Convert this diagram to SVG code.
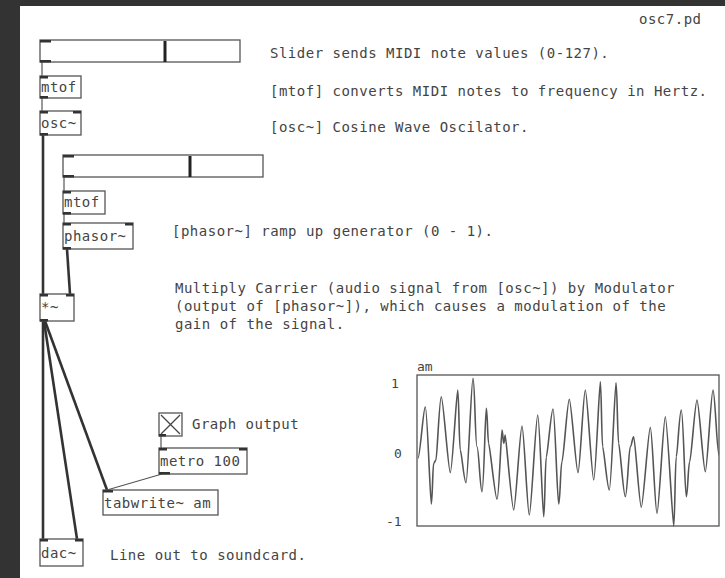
<svg xmlns="http://www.w3.org/2000/svg" width="725" height="578" viewBox="0 0 725 578">
<defs>
<style>
.t{font-family:"DejaVu Sans Mono","Liberation Mono",monospace;font-size:14px;letter-spacing:0.5px;fill:#444}
.s{font-family:"DejaVu Sans Mono","Liberation Mono",monospace;font-size:13px;fill:#444}
.box{fill:#fff;stroke:#555;stroke-width:1.3}
.tab{fill:#333}
.sig{stroke:#333;stroke-width:2.6;fill:none}
.ctl{stroke:#555;stroke-width:1.2;fill:none}
</style>
</defs>
<rect x="0" y="0" width="725" height="578" fill="#333"/>
<rect x="20" y="6" width="705" height="572" fill="#fff"/>

<text class="t" x="639" y="24">osc7.pd</text>

<g id="connectors">
<line class="ctl" x1="42" y1="62" x2="42" y2="76"/>
<line class="ctl" x1="42" y1="98" x2="42" y2="111"/>
<line class="sig" x1="43" y1="135" x2="43" y2="294"/>
<line class="ctl" x1="64" y1="177" x2="64" y2="191"/>
<line class="ctl" x1="64" y1="214" x2="64" y2="223"/>
<line class="sig" x1="67" y1="249" x2="70" y2="294"/>
<line class="sig" x1="43" y1="321" x2="43" y2="539"/>
<line class="sig" x1="44" y1="321" x2="77" y2="539"/>
<line class="sig" x1="45" y1="321" x2="107" y2="490"/>
<line class="ctl" x1="161" y1="436" x2="161" y2="448"/>
<line class="ctl" x1="162" y1="474" x2="107" y2="490"/>
</g>

<g id="slider1">
<rect class="box" x="40" y="40" width="200" height="22"/>
<rect class="tab" x="40" y="40" width="11" height="2.5"/>
<rect class="tab" x="40" y="60" width="11" height="2.5"/>
<line x1="165" y1="41" x2="165" y2="62" stroke="#222" stroke-width="3"/>
</g>
<text class="t" x="270" y="58">Slider sends MIDI note values (0-127).</text>

<g id="mtof1">
<rect class="box" x="40" y="76" width="41" height="22"/>
<rect class="tab" x="40" y="76" width="8" height="2.5"/>
<rect class="tab" x="40" y="96" width="8" height="2.5"/>
<text class="t" x="41" y="92">mtof</text>
</g>
<text class="t" x="270" y="96">[mtof] converts MIDI notes to frequency in Hertz.</text>

<g id="osc">
<rect class="box" x="40" y="111" width="41" height="24"/>
<rect class="tab" x="40" y="111" width="8" height="2.5"/>
<rect class="tab" x="73" y="111" width="8" height="2.5"/>
<rect class="tab" x="40" y="133" width="8" height="2.5"/>
<text class="t" x="41" y="128">osc~</text>
</g>
<text class="t" x="270" y="132">[osc~] Cosine Wave Oscilator.</text>

<g id="slider2">
<rect class="box" x="63" y="155" width="200" height="22"/>
<rect class="tab" x="63" y="155" width="11" height="2.5"/>
<rect class="tab" x="63" y="175" width="11" height="2.5"/>
<line x1="190" y1="156" x2="190" y2="177" stroke="#222" stroke-width="3"/>
</g>

<g id="mtof2">
<rect class="box" x="63" y="191" width="42" height="23"/>
<rect class="tab" x="63" y="191" width="8" height="2.5"/>
<rect class="tab" x="63" y="212" width="8" height="2.5"/>
<text class="t" x="64" y="207">mtof</text>
</g>

<g id="phasor">
<rect class="box" x="63" y="223" width="70" height="26"/>
<rect class="tab" x="63" y="223" width="8" height="2.5"/>
<rect class="tab" x="125" y="223" width="8" height="2.5"/>
<rect class="tab" x="63" y="247" width="8" height="2.5"/>
<text class="t" x="64" y="241">phasor~</text>
</g>
<text class="t" x="172" y="236">[phasor~] ramp up generator (0 - 1).</text>

<g id="mul">
<rect class="box" x="40" y="294" width="34" height="27"/>
<rect class="tab" x="40" y="294" width="8" height="2.5"/>
<rect class="tab" x="66" y="294" width="8" height="2.5"/>
<rect class="tab" x="40" y="319" width="8" height="2.5"/>
<text class="t" x="41" y="312">*~</text>
</g>
<text class="t" x="175" y="293">Multiply Carrier (audio signal from [osc~]) by Modulator</text>
<text class="t" x="175" y="311">(output of [phasor~]), which causes a modulation of the</text>
<text class="t" x="175" y="329">gain of the signal.</text>

<g id="toggle">
<rect class="box" x="159" y="413" width="23" height="23"/>
<line x1="161" y1="415" x2="180" y2="434" stroke="#444" stroke-width="1.3"/>
<line x1="180" y1="415" x2="161" y2="434" stroke="#444" stroke-width="1.3"/>
<rect class="tab" x="159" y="434" width="7" height="2.5"/>
</g>
<text class="t" x="192" y="429">Graph output</text>

<g id="metro">
<rect class="box" x="159" y="448" width="88" height="26"/>
<rect class="tab" x="159" y="448" width="8" height="2.5"/>
<rect class="tab" x="239" y="448" width="8" height="2.5"/>
<rect class="tab" x="159" y="472" width="11" height="2.5"/>
<text class="t" x="160" y="466">metro 100</text>
</g>

<g id="tabwrite">
<rect class="box" x="103" y="490" width="115" height="25"/>
<rect class="tab" x="103" y="490" width="10" height="2.5"/>
<text class="t" x="104" y="508">tabwrite~ am</text>
</g>

<g id="dac">
<rect class="box" x="40" y="539" width="43" height="27"/>
<rect class="tab" x="40" y="539" width="8" height="2.5"/>
<rect class="tab" x="75" y="539" width="8" height="2.5"/>
<text class="t" x="41" y="558">dac~</text>
</g>
<text class="t" x="110" y="560">Line out to soundcard.</text>

<g id="graph">
<text class="s" x="417" y="371">am</text>
<text class="s" x="391" y="388">1</text>
<text class="s" x="394" y="458">0</text>
<text class="s" x="386" y="526">-1</text>
<rect x="417" y="375" width="302" height="151" fill="#fff" stroke="#555" stroke-width="1.3"/>
<path fill="none" stroke="#555" stroke-width="1.6" stroke-linejoin="round" d="M418,458.3 C420,458.3 423.3,406.7 425.3,406.7 S430.2,504 431.3,504 S432.7,463.3 433.7,463.3 S435,460 436,460 S439.3,396.7 441.3,396.7 S448.3,472.7 450.3,472.7 S456.5,390 457.7,390 S459.1,450 460.3,450 S464,482.7 466,482.7 S471.2,378.3 473,378.3 S475.2,446.7 477,446.7 S480.1,491.7 482,491.7 S485.2,408.3 486.3,408.3 S487.6,443.3 488.7,443.3 S495,499.3 497,499.3 S501.2,430 502,430 S503,443.3 503.7,443.3 S504.6,435 505.3,435 S511.7,510 513.7,510 S520,426 522,426 S527.3,515 529.3,515 S535.7,415 537.7,415 S542.5,516.7 543.7,516.7 S545.1,457.3 546.3,457.3 S551,409 553,409 S557.2,504 558.7,504 S560.5,461.7 562,461.7 S567.3,399.3 569.3,399.3 S576,472.7 578,472.7 S583.3,390 585.3,390 S591.7,480 593.7,480 S599.2,381.7 600.3,381.7 S601.6,446.7 602.7,446.7 S607.3,490 609.3,490 S614.8,382.7 616,382.7 S617.5,443.3 618.7,443.3 S623.3,496.7 625.3,496.7 S628.8,446.7 630.3,446.7 S632.2,436.7 633.7,436.7 S639.3,507.3 641.3,507.3 S648.3,427.3 650.3,427.3 S655,513.3 657,513.3 S663.3,416.7 665.3,416.7 S672.5,526 673.7,526 S675.1,456.7 676.3,456.7 S679.3,410 681.3,410 S684.8,496.7 686.3,496.7 S688.2,461.7 689.7,461.7 S695,400 697,400 S703.3,471.7 705.3,471.7 S711,390 713,390 S717,455 719,455"/>
</g>
</svg>
